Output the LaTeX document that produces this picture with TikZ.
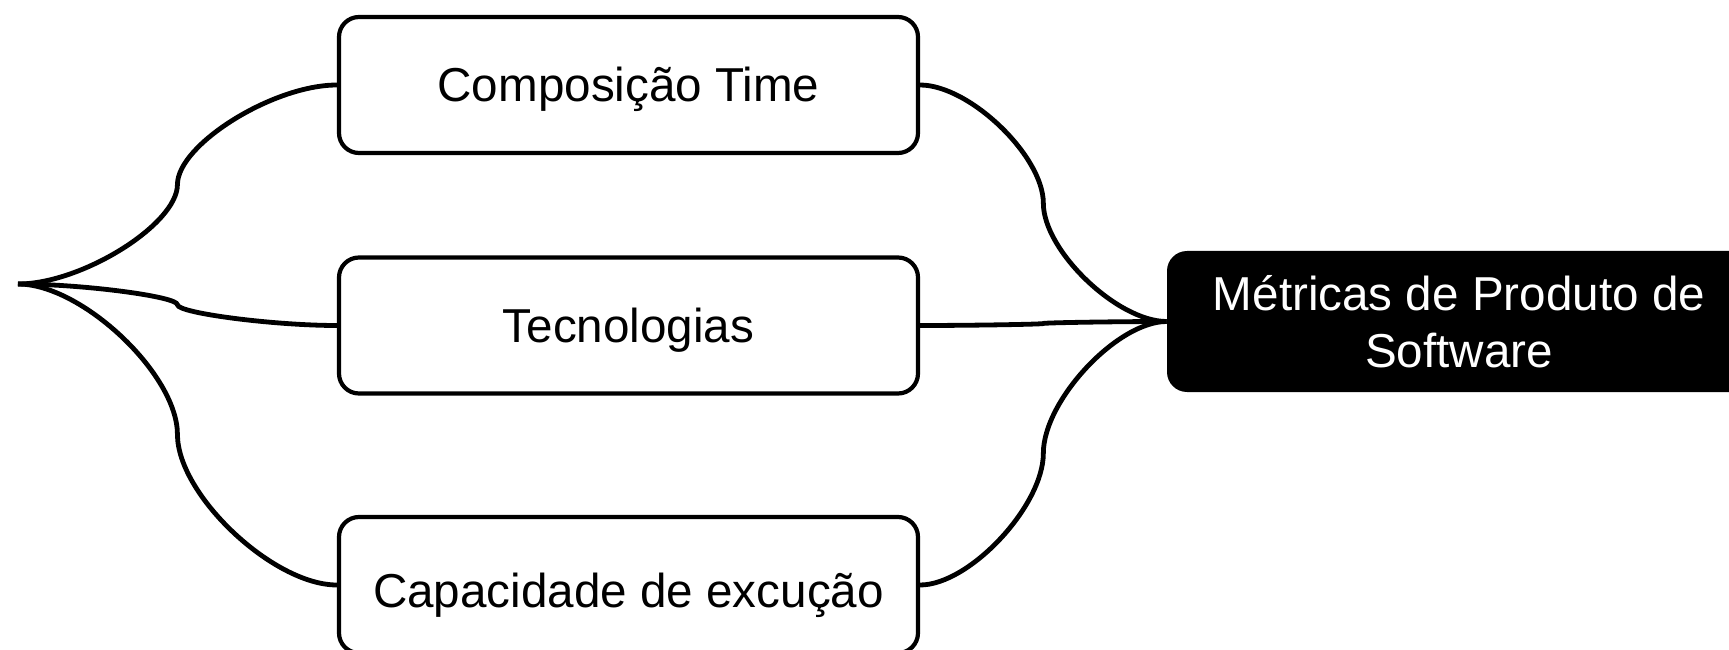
\documentclass[tikz,border=0pt]{standalone}
\usepackage{fontspec}
\setmainfont{Liberation Sans}
\usetikzlibrary{calc}
\tikzset{
  box/.style={draw=black, line width=2.1pt, rounded corners=10pt, fill=white,
    minimum width=289.5pt, minimum height=68pt, inner sep=0pt,
    font=\fontsize{23.8pt}{28.4pt}\selectfont, text height=17pt, text depth=0pt},
  mainbox/.style={fill=black, text=white, rounded corners=10pt,
    minimum width=292pt, minimum height=70.5pt, inner sep=0pt, align=center,
    font=\fontsize{23.8pt}{28.4pt}\selectfont},
  conn/.style={draw=black, line width=2.4pt},
}
\newcommand\mybranch[2]{%
  \draw[conn] let \p1=(#1), \p2=(#2) in (\p1)
   .. controls ({\x1+0.2*(\x2-\x1)},\y1) and ({0.5*(\x1+\x2)},{\y1+0.3*(\y2-\y1)}) .. ({0.5*(\x1+\x2)},{0.5*(\y1+\y2)})
   .. controls ({0.5*(\x1+\x2)},{\y1+0.7*(\y2-\y1)}) and ({\x2-0.2*(\x2-\x1)},\y2) .. (\p2);}
\begin{document}
\begin{tikzpicture}[x=0.5pt,y=0.5pt]
\useasboundingbox (0,0) rectangle (1729,649);
\node[box] (b1) at (628.5,564) {Composição Time};
\node[box] (b2) at (628.5,323.5) {Tecnologias};
\node[box, text height=22pt] (b3) at (628.5,64) {Capacidade de excução};
\node[mainbox] (m) at (1459,327.5) {Métricas de Produto de\\Software};
\coordinate (tip) at (18,365);
\mybranch{tip}{b1.west}
\mybranch{tip}{b2.west}
\mybranch{tip}{b3.west}
\mybranch{b1.east}{m.west}
\mybranch{b2.east}{m.west}
\mybranch{b3.east}{m.west}
\end{tikzpicture}
\end{document}
